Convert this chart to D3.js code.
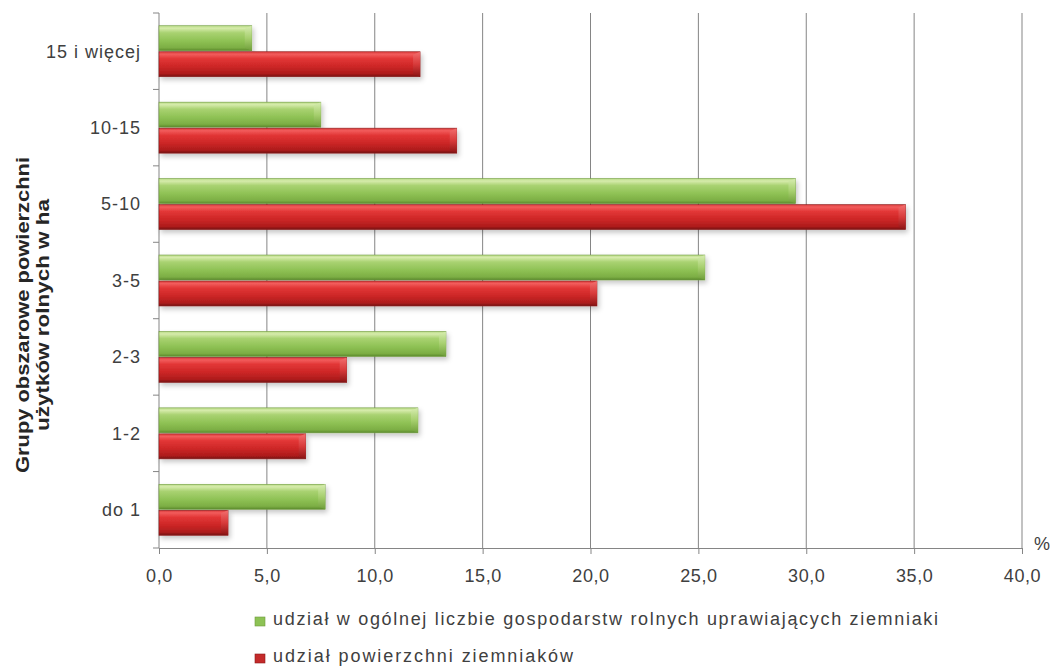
<!DOCTYPE html>
<html><head><meta charset="utf-8">
<script src="https://cdn.jsdelivr.net/npm/d3@7"></script>
<style>body{margin:0;background:#fff}svg{display:block}text{font-family:"Liberation Sans",Arial,sans-serif}</style>
</head><body><svg id="c" width="1054" height="668"></svg>
<script>
const categories = ["15 i więcej","10-15","5-10","3-5","2-3","1-2","do 1"];
const seriesNames = ["udział w ogólnej liczbie gospodarstw rolnych uprawiających ziemniaki","udział powierzchni ziemniaków"];
const greenValues = [4.3, 7.5, 29.5, 25.3, 13.3, 12.0, 7.7];
const redValues = [12.1, 13.8, 34.6, 20.3, 8.7, 6.8, 3.2];
const xTicks = [0,5,10,15,20,25,30,35,40];
const yTitle = ["Grupy obszarowe powierzchni","użytków rolnych w ha"];

const svg = d3.select("#c");
const x = d3.scaleLinear().domain([0,40]).range([159,1022]);
const y = d3.scaleBand().domain(categories).range([13,548]).paddingInner(0.333).paddingOuter(0.1667);
const sub = d3.scaleBand().domain(["g","r"]).range([0,y.bandwidth()]).paddingInner(0.04);

const defs = svg.append("defs");
function grad(id, stops){
  const g = defs.append("linearGradient").attr("id",id).attr("x1",0).attr("y1",0).attr("x2",0).attr("y2",1);
  stops.forEach(s=>g.append("stop").attr("offset",s[0]).attr("stop-color",s[1]));
}
grad("gG",[[0,"#b9dc86"],[0.1,"#d6ebab"],[0.28,"#a9d271"],[0.6,"#8fc255"],[0.88,"#7cae44"],[1,"#5b8a2c"]]);
grad("gR",[[0,"#d83a3a"],[0.1,"#f25c5c"],[0.28,"#e23636"],[0.6,"#cc2626"],[0.88,"#ad1c1c"],[1,"#731010"]]);
grad("gGe",[[0,"#d6ecb0"],[0.5,"#a8d070"],[1,"#6f9e3a"]]);
grad("gRe",[[0,"#f27070"],[0.5,"#d83c3c"],[1,"#8a1414"]]);
const f = defs.append("filter").attr("id","sh").attr("x","-5%").attr("y","-30%").attr("width","115%").attr("height","180%");
f.append("feDropShadow").attr("dx",2).attr("dy",3).attr("stdDeviation",2.5).attr("flood-color","#000").attr("flood-opacity",0.22);

// gridlines
svg.append("g").selectAll("line").data(xTicks.slice(1)).join("line")
  .attr("x1",d=>x(d)).attr("x2",d=>x(d)).attr("y1",13).attr("y2",548)
  .attr("stroke","#858585").attr("stroke-width",1);

// axes
const xAxis = d3.axisBottom(x).tickValues(xTicks).tickSize(6).tickFormat(d=>d3.format(".1f")(d).replace(".",","));
const gx = svg.append("g").attr("transform","translate(0,548)").call(xAxis);
gx.select(".domain").attr("stroke","#858585");
gx.selectAll(".tick line").attr("stroke","#858585");
gx.selectAll("text").attr("font-size",18).attr("fill","#404040").attr("y",34).attr("dy",0)
  .attr("letter-spacing","0.6px").attr("font-family","'Liberation Sans',Arial,sans-serif");

const yTickPos = d3.range(categories.length+1).map(i=>13 + i*(535/categories.length));
svg.append("line").attr("x1",159).attr("x2",159).attr("y1",13).attr("y2",548).attr("stroke","#858585");
svg.append("g").selectAll("line").data(yTickPos).join("line")
  .attr("x1",153).attr("x2",159).attr("y1",d=>d).attr("y2",d=>d).attr("stroke","#858585");
svg.append("g").selectAll("text").data(categories).join("text")
  .attr("x",141).attr("y",d=>y(d)+y.bandwidth()/2).attr("dy","0.35em")
  .attr("text-anchor","end").attr("font-size",18).attr("letter-spacing","1px").attr("fill","#404040").text(d=>d);

// bars
const rows = categories.map((c,i)=>[{c,k:"g",v:greenValues[i]},{c,k:"r",v:redValues[i]}]).flat();
const bars = svg.append("g").selectAll("g").data(rows).join("g")
  .attr("transform",d=>`translate(${x(0)},${y(d.c)+sub(d.k)})`);
const h = sub.bandwidth();
bars.append("rect").attr("width",d=>x(d.v)-x(0)).attr("height",h)
  .attr("fill",d=>d.k==="g"?"url(#gG)":"url(#gR)").attr("filter","url(#sh)")
  .attr("stroke",d=>d.k==="g"?"#6f9a3e":"#8c1a1a").attr("stroke-width",0.6);
bars.append("polygon").attr("points",d=>{const w=x(d.v)-x(0);return `${w-7},3 ${w},0 ${w},${h} ${w-7},${h-3}`;})
  .attr("fill",d=>d.k==="g"?"url(#gGe)":"url(#gRe)").attr("opacity",0.9);

// % label
svg.append("text").attr("x",1034).attr("y",550).attr("font-size",18).attr("fill","#404040").text("%");

// y title
const yt = svg.append("text").attr("transform","translate(0,315) rotate(-90)").attr("text-anchor","middle")
  .attr("font-size",18).attr("font-weight","bold").attr("fill","#262626");
yt.append("tspan").attr("x",0).attr("y",29).attr("textLength",316).attr("lengthAdjust","spacingAndGlyphs").text(yTitle[0]);
yt.append("tspan").attr("x",0).attr("y",49).attr("textLength",232).attr("lengthAdjust","spacingAndGlyphs").text(yTitle[1]);

// legend
const leg = svg.append("g").selectAll("g").data(seriesNames).join("g")
  .attr("transform",(d,i)=>`translate(255,${625+i*37})`);
leg.append("rect").attr("x",0).attr("y",-8).attr("width",10).attr("height",9)
  .attr("fill",(d,i)=>i===0?"#8dc255":"#c42a2a").attr("stroke",(d,i)=>i===0?"#6f9a3e":"#8c1a1a").attr("stroke-width",0.6);
leg.append("text").attr("x",18).attr("y",0).attr("font-size",18).attr("fill","#404040")
  .attr("textLength",(d,i)=>i===0?665:300).attr("lengthAdjust","spacing").text(d=>d);
</script></body></html>
